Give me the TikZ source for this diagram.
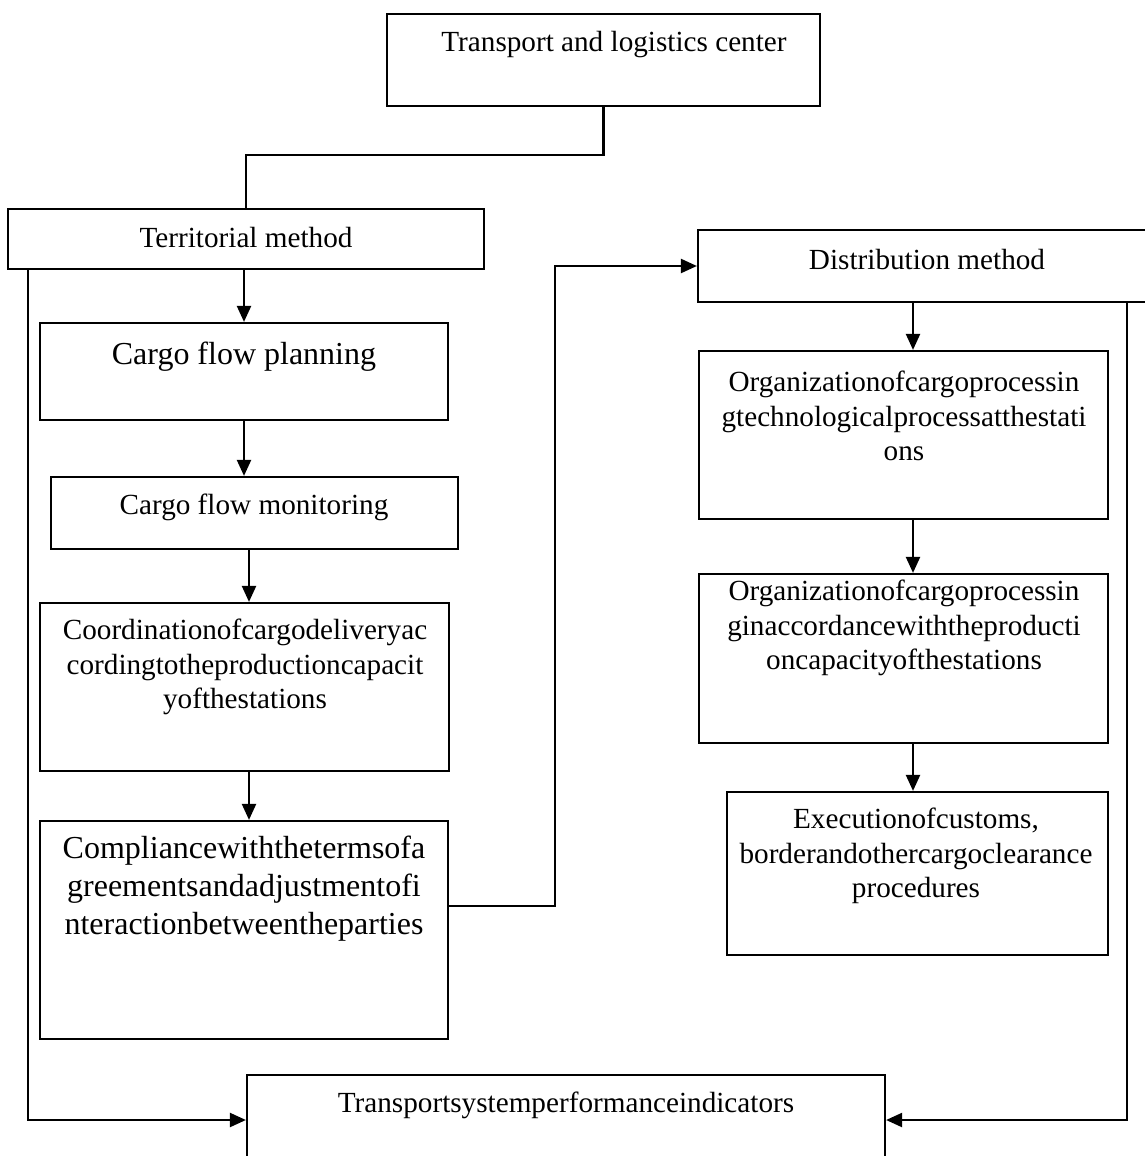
\documentclass[tikz,border=0pt]{standalone}
\usepackage{fontspec}
\setmainfont{Liberation Serif}
\usepackage{tikz}
\usetikzlibrary{arrows.meta}
\usetikzlibrary{positioning}

\begin{document}
\begin{tikzpicture}[
    x=0.5pt, y=-0.5pt,
    line width=1.1pt,
    blk/.style = {draw, line width=1.1pt, inner sep=0pt},
    lbl/.style = {align=center, inner sep=0pt,
                  font=\fontsize{14.6}{17.2}\selectfont},
    big/.style = {lbl, font=\fontsize{16}{19}\selectfont},
    arr/.style = {-{Triangle[length=8pt,width=7pt]}}]
\clip (0,0) rectangle (1145,1156);

% boxes
\node[blk, minimum width=216.5pt, minimum height=46pt]   (tlc)   at (603.5,60)  {};
\node[blk, minimum width=238pt,   minimum height=30pt]   (terr)  at (246,239)   {};
\node[blk, minimum width=204pt,   minimum height=48.5pt] (plan)  at (244,371.5) {};
\node[blk, minimum width=203.5pt, minimum height=36pt]   (mon)   at (254.5,513) {};
\node[blk, minimum width=204.5pt, minimum height=84pt]   (coord) at (244.5,687) {};
\node[blk, minimum width=204pt,   minimum height=109pt]  (comp)  at (244,930)   {};
\node[blk, minimum width=231pt,   minimum height=36pt]   (dist)  at (929,266)   {};
\node[blk, minimum width=204.5pt, minimum height=84pt]   (org1)  at (903.5,435) {};
\node[blk, minimum width=204.5pt, minimum height=84.5pt] (org2)  at (903.5,658.5) {};
\node[blk, minimum width=190.5pt, minimum height=81.5pt] (exec)  at (917.5,873.5) {};
\node[blk, minimum width=319pt,   minimum height=71pt]   (tps)   at (566,1146)  {};

% texts
\node[lbl] (tlc-t)   at (614,45)   {Transport and logistics center};
\node[lbl] (terr-t)  at (246,238)  {Territorial method};
\node[big] (plan-t)  at (244,357)  {Cargo flow planning};
\node[lbl] (mon-t)   at (254,507)  {Cargo flow monitoring};
\node[lbl] (coord-t) at (245,667)  {Coordinationofcargodeliveryac\\cordingtotheproductioncapacit\\yofthestations};
\node[big] (comp-t)  at (244,889)  {Compliancewiththetermsofa\\greementsandadjustmentofi\\nteractionbetweentheparties};
\node[lbl] (dist-t)  at (927,260)  {Distribution method};
\node[lbl] (org1-t)  at (904,416)  {Organizationofcargoprocessin\\gtechnologicalprocessatthestati\\ons};
\node[lbl] (org2-t)  at (904,628)  {Organizationofcargoprocessin\\ginaccordancewiththeproducti\\oncapacityofthestations};
\node[lbl] (exec-t)  at (916,856)  {Executionofcustoms,\\borderandothercargoclearance\\procedures};
\node[lbl] (tps-t)   at (566,1105) {Transportsystemperformanceindicators};

\coordinate (bend) at (0,155);
\coordinate (lft)  at (28,0);
\coordinate (rgt)  at (1127,0);
\coordinate (jog)  at (555,0);
\coordinate (mid)  at (913,0);
\coordinate (spn)  at (249,0);

% territorial branch
\draw (tlc.south) |- (bend -| terr.north) -- (terr.north);
\draw[arr] (terr.south -| plan.north) -- (plan.north);
\draw[arr] (plan.south) -- (plan.south |- mon.north);
\draw[arr] (mon.south -| spn) -- (coord.north -| spn);
\draw[arr] (coord.south -| spn) -- (comp.north -| spn);
\draw[arr] (terr.south -| lft) |- ([yshift=13pt]tps.west);

% distribution branch
\draw[arr] ([yshift=12pt]comp.east) -| (jog |- dist.west) -- (dist.west);
\draw[arr] (dist.south -| mid) -- (org1.north -| mid);
\draw[arr] (org1.south -| mid) -- (org2.north -| mid);
\draw[arr] (org2.south -| mid) -- (exec.north -| mid);
\draw[arr] (dist.south -| rgt) |- ([yshift=13pt]tps.east);
\end{tikzpicture}
\end{document}
